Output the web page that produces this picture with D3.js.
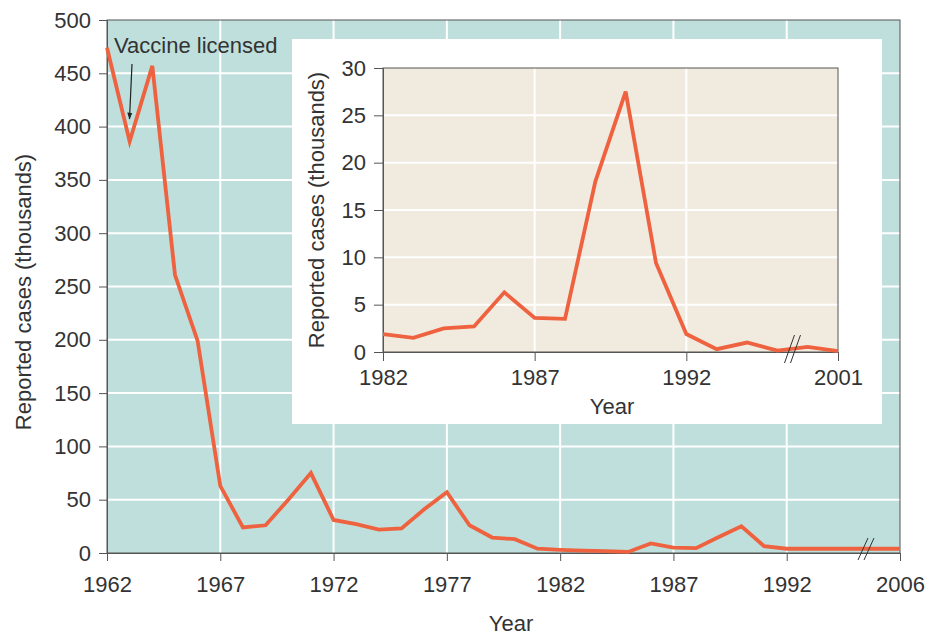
<!DOCTYPE html>
<html>
<head>
<meta charset="utf-8">
<script src="https://cdn.jsdelivr.net/npm/d3@7/dist/d3.min.js"></script>
<style>
  html, body { margin: 0; padding: 0; background: #ffffff; }
  svg text { font-family: "Liberation Sans", Arial, sans-serif; fill: #333; }
</style>
</head>
<body>
<svg id="chart" width="938" height="637"></svg>
<script>
// Measles cases in the US, thousands per year (main panel)
const mainYears = [1962,1963,1964,1965,1966,1967,1968,1969,1970,1971,1972,1973,1974,1975,1976,1977,1978,1979,1980,1981,1982,1983,1984,1985,1986,1987,1988,1989,1990,1991,1992,1993,1994,1995,1996,2006];
const mainCases = [474,386,457,261,199,63,24,26,50,75,31,27,22,23,41,57,26,14.5,13,4,3,2.3,1.7,1,9,5,4.5,15,25,6.5,4,4,4,4,4,4];
const mainYTicks = [0,50,100,150,200,250,300,350,400,450,500];
const mainXTicks = [1962,1967,1972,1977,1982,1987,1992,2006];

// Detail panel 1982–2001, thousands
const insetYears = [1982,1983,1984,1985,1986,1987,1988,1989,1990,1991,1992,1993,1994,1995,1996,2001];
const insetCases = [1.9,1.5,2.5,2.7,6.3,3.6,3.5,18,27.5,9.4,1.9,0.3,1.0,0.15,0.55,0.1];
const insetYTicks = [0,5,10,15,20,25,30];
const insetXTicks = [1982,1987,1992,2001];

const svg = d3.select("#chart");
const lineColor = "#ee6240";
const frameColor = "#555";
const FS = 22;

function panel(opts) {
  const { left, right, top, bottom, xDomain, xRange, yMax, years, cases,
          xTicks, yTicks, bg, breakAt, labelX, labelY, yearX, yearY,
          tickLen, xPad, brUp, brDown } = opts;
  const g = svg.append("g");
  const x = d3.scaleLinear().domain(xDomain).range(xRange);
  const y = d3.scaleLinear().domain([0, yMax]).range([bottom, top]);

  g.append("rect").attr("x", left).attr("y", top)
    .attr("width", right - left).attr("height", bottom - top).attr("fill", bg);

  // white grid
  g.append("g").selectAll("line").data(yTicks.filter(d => d > 0 && d < yMax)).join("line")
    .attr("x1", left).attr("x2", right).attr("y1", d => y(d)).attr("y2", d => y(d))
    .attr("stroke", "#fff").attr("stroke-width", 2);
  g.append("g").selectAll("line").data(xTicks.slice(1, -1)).join("line")
    .attr("x1", d => x(d)).attr("x2", d => x(d)).attr("y1", top).attr("y2", bottom)
    .attr("stroke", "#fff").attr("stroke-width", 2);

  // frame
  g.append("rect").attr("x", left).attr("y", top)
    .attr("width", right - left).attr("height", bottom - top)
    .attr("fill", "none").attr("stroke", frameColor).attr("stroke-width", 1);

  // axes
  const yAxis = d3.axisLeft(y).tickValues(yTicks).tickSize(tickLen).tickPadding(8);
  const xAxis = d3.axisBottom(x).tickValues(xTicks).tickSize(tickLen).tickPadding(xPad)
    .tickFormat(d3.format("d"));
  const ya = g.append("g").attr("transform", `translate(${left},0)`).call(yAxis);
  const xa = g.append("g").attr("transform", `translate(0,${bottom})`).call(xAxis);
  [ya, xa].forEach(a => {
    a.attr("font-size", FS).attr("font-family", "Liberation Sans, Arial, sans-serif");
    a.select(".domain").attr("stroke", frameColor);
    a.selectAll(".tick line").attr("stroke", frameColor);
    a.selectAll(".tick text").attr("fill", "#333");
  });

  // data line
  const line = d3.line().x((d, i) => x(years[i])).y(d => y(d));
  g.append("path").datum(cases).attr("d", line)
    .attr("fill", "none").attr("stroke", lineColor).attr("stroke-width", 3.8)
    .attr("stroke-linejoin", "miter");

  // axis break marks
  const bx = x(breakAt);
  [-3, 3].forEach(off => {
    g.append("line")
      .attr("x1", bx + off - 5).attr("y1", bottom + brDown)
      .attr("x2", bx + off + 5).attr("y2", bottom - brUp)
      .attr("stroke", "#333").attr("stroke-width", 1);
  });

  // axis titles
  g.append("text").attr("x", yearX).attr("y", yearY)
    .attr("text-anchor", "middle").attr("font-size", FS).text("Year");
  g.append("text")
    .attr("transform", `translate(${labelX},${labelY}) rotate(-90)`)
    .attr("text-anchor", "middle").attr("font-size", FS)
    .text("Reported cases (thousands)");
  return { x, y };
}

// main panel
panel({
  left: 107, right: 900, top: 20, bottom: 553,
  xDomain: [1962, 1996, 2006], xRange: [107, 107 + 34 * (793 / 35), 900],
  yMax: 500, years: mainYears, cases: mainCases,
  xTicks: mainXTicks, yTicks: mainYTicks, bg: "#bedfdb",
  breakAt: 1995.5, labelX: 31, labelY: 292, yearX: 511, yearY: 631,
  tickLen: 8, xPad: 15, brUp: 15, brDown: 7
});

// annotation
svg.append("text").attr("x", 114).attr("y", 53).attr("font-size", FS)
  .text("Vaccine licensed");
svg.append("defs").append("marker").attr("id", "arr")
  .attr("viewBox", "0 0 10 10").attr("refX", 9).attr("refY", 5)
  .attr("markerWidth", 6).attr("markerHeight", 6).attr("orient", "auto")
  .append("path").attr("d", "M0,1.5 L10,5 L0,8.5 Z").attr("fill", "#222");
svg.append("line").attr("x1", 132).attr("y1", 64).attr("x2", 129.5).attr("y2", 119)
  .attr("stroke", "#222").attr("stroke-width", 1.2).attr("marker-end", "url(#arr)");

// inset backdrop
svg.append("rect").attr("x", 292).attr("y", 39).attr("width", 590).attr("height", 385)
  .attr("fill", "#fff");

panel({
  left: 383, right: 838, top: 68, bottom: 352,
  xDomain: [1982, 1996, 2001], xRange: [383, 383 + 14 * (455 / 15), 838],
  yMax: 30, years: insetYears, cases: insetCases,
  xTicks: insetXTicks, yTicks: insetYTicks, bg: "#f1ebdf",
  breakAt: 1995.5, labelX: 324, labelY: 210, yearX: 612, yearY: 414,
  tickLen: 9, xPad: 8, brUp: 17, brDown: 11
});
</script>
</body>
</html>
